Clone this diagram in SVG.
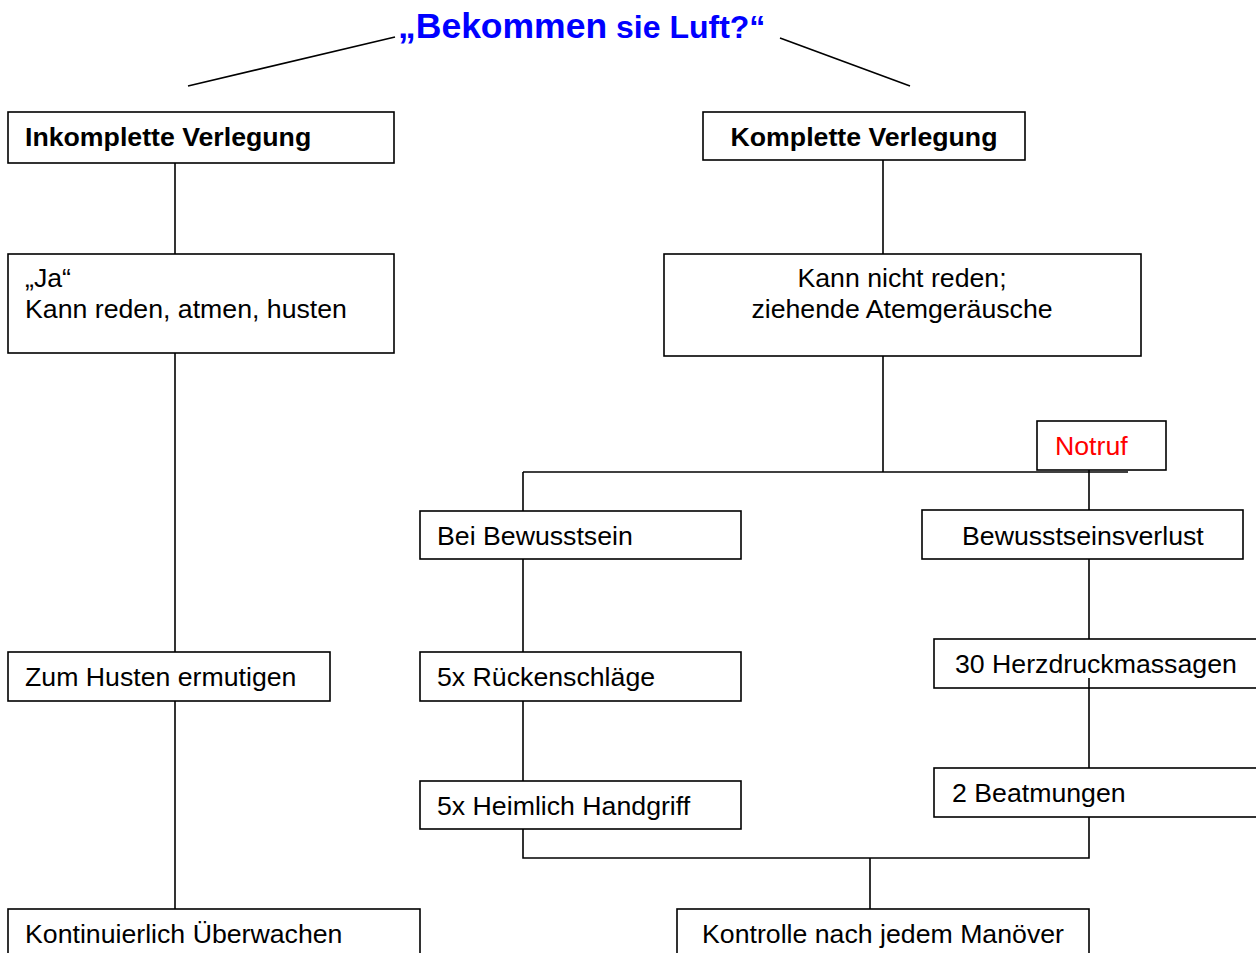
<svg xmlns="http://www.w3.org/2000/svg" width="1256" height="953" viewBox="0 0 1256 953">
<style>
.box{fill:#fff;stroke:#000;stroke-width:1.6}
.t{font-family:"Liberation Sans",Arial,sans-serif;font-size:26.7px;fill:#000}
.b{font-weight:bold}
.c{text-anchor:middle}
.ln{stroke:#000;stroke-width:1.6;fill:none}
.title{font-family:"Liberation Sans",Arial,sans-serif;font-weight:bold;fill:#0000FF}
</style>
<rect width="1256" height="953" fill="#fff"/>
<g id="title">
<text x="398" y="38" class="title"><tspan font-size="35.5">„Bekommen</tspan><tspan font-size="32"> sie Luft?“</tspan></text>
</g>
<g id="connectors">
<line class="ln" x1="188" y1="86" x2="395" y2="37"/>
<line class="ln" x1="780" y1="38" x2="910" y2="86"/>
<line class="ln" x1="175" y1="163" x2="175" y2="254"/>
<line class="ln" x1="883" y1="160" x2="883" y2="254"/>
<line class="ln" x1="175" y1="353" x2="175" y2="652"/>
<line class="ln" x1="883" y1="356" x2="883" y2="472"/>
<line class="ln" x1="523" y1="472" x2="1128" y2="472"/>
<line class="ln" x1="523" y1="472" x2="523" y2="511"/>
<line class="ln" x1="1089" y1="470" x2="1089" y2="510"/>
<line class="ln" x1="523" y1="559" x2="523" y2="652"/>
<line class="ln" x1="175" y1="701" x2="175" y2="909"/>
<line class="ln" x1="523" y1="701" x2="523" y2="781"/>
<line class="ln" x1="1089" y1="559" x2="1089" y2="639"/>
<polyline class="ln" points="523,829 523,858 1089,858 1089,817"/>
<line class="ln" x1="870" y1="858" x2="870" y2="909"/>
</g>
<g id="inkomplette">
<rect class="box" x="8" y="112" width="386" height="51"/>
<text class="t b" x="25" y="146">Inkomplette Verlegung</text>
</g>
<g id="komplette">
<rect class="box" x="703" y="112" width="322" height="48"/>
<text class="t b c" x="864" y="146">Komplette Verlegung</text>
</g>
<g id="ja">
<rect class="box" x="8" y="254" width="386" height="99"/>
<text class="t" x="25" y="287">„Ja“</text>
<text class="t" x="25" y="318">Kann reden, atmen, husten</text>
</g>
<g id="kann-nicht">
<rect class="box" x="664" y="254" width="477" height="102"/>
<text class="t c" x="902" y="287">Kann nicht reden;</text>
<text class="t c" x="902" y="318">ziehende Atemgeräusche</text>
</g>
<g id="notruf">
<rect class="box" x="1037" y="421" width="129" height="49"/>
<text class="t" x="1055" y="455" style="fill:#FF0000">Notruf</text>
</g>
<g id="bei-bewusstsein">
<rect class="box" x="420" y="511" width="321" height="48"/>
<text class="t" x="437" y="545">Bei Bewusstsein</text>
</g>
<g id="bewusstseinsverlust">
<rect class="box" x="922" y="510" width="321" height="49"/>
<text class="t" x="962" y="545">Bewusstseinsverlust</text>
</g>
<g id="zum-husten">
<rect class="box" x="8" y="652" width="322" height="49"/>
<text class="t" x="25" y="686">Zum Husten ermutigen</text>
</g>
<g id="rueckenschlaege">
<rect class="box" x="420" y="652" width="321" height="49"/>
<text class="t" x="437" y="686">5x Rückenschläge</text>
</g>
<g id="herzdruck">
<rect class="box" x="934" y="639" width="330" height="49"/>
<text class="t" x="955" y="673">30 Herzdruckmassagen</text>
</g>
<g id="heimlich">
<rect class="box" x="420" y="781" width="321" height="48"/>
<text class="t" x="437" y="815">5x Heimlich Handgriff</text>
</g>
<g id="beatmungen">
<rect class="box" x="934" y="768" width="330" height="49"/>
<text class="t" x="952" y="802">2 Beatmungen</text>
</g>
<g id="kontinuierlich">
<rect class="box" x="8" y="909" width="412" height="60"/>
<text class="t" x="25" y="943">Kontinuierlich Überwachen</text>
</g>
<g id="kontrolle">
<rect class="box" x="677" y="909" width="412" height="60"/>
<text class="t" x="702" y="943">Kontrolle nach jedem Manöver</text>
</g>
<line class="ln" x1="1089" y1="678" x2="1089" y2="768"/>
</svg>
